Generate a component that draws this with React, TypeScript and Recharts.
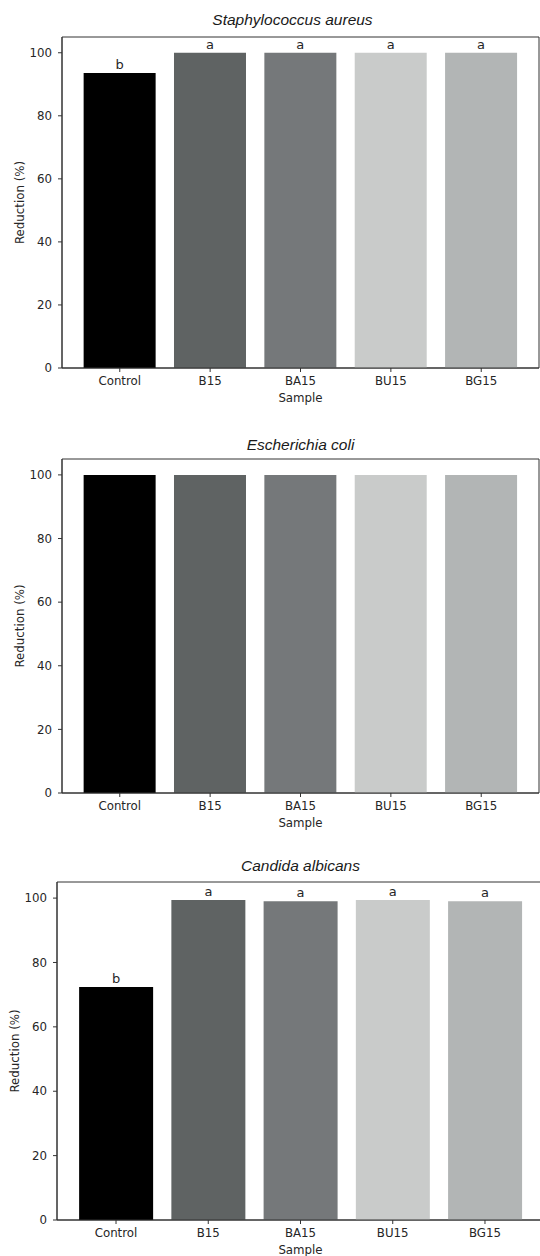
import React from 'react';
import { BarChart, Bar, XAxis, YAxis, CartesianGrid, Cell, LabelList, Label } from 'recharts';

const samples = ['Control', 'B15', 'BA15', 'BU15', 'BG15'];
const staphValues = [93.6, 100, 100, 100, 100];
const ecoliValues = [100, 100, 100, 100, 100];
const candidaValues = [72.4, 99.4, 99.0, 99.4, 99.0];
const staphLetters = ['b', 'a', 'a', 'a', 'a'];
const candidaLetters = ['b', 'a', 'a', 'a', 'a'];
const barColors = ['#000000', '#5f6363', '#75787a', '#c9cbca', '#b2b5b5'];
const yTicks = [0, 20, 40, 60, 80, 100];
const titles = ['Staphylococcus aureus', 'Escherichia coli', 'Candida albicans'];

const AX = '#333333';
const TXT = '#262626';
const FONT = 'DejaVu Sans';

type PanelProps = {
  title: string;
  values: number[];
  letters?: string[];
  top: number;
  height: number;
  width: number;
  yAxisWidth: number;
  pad: number;
  titleTop: number;
  titleShift: number;
};

function Panel({ title, values, letters, top, height, width, yAxisWidth, pad, titleTop, titleShift }: PanelProps) {
  const data = samples.map((s, i) => ({ sample: s, value: values[i], letter: letters ? letters[i] : '' }));
  const plotLeft = yAxisWidth;
  const plotWidth = width - 1 - yAxisWidth;
  return (
    <>
      <div
        style={{
          position: 'absolute',
          top: titleTop,
          left: plotLeft + titleShift,
          width: plotWidth,
          textAlign: 'center',
          fontFamily: 'Liberation Sans',
          fontStyle: 'italic',
          fontSize: 15.5,
          lineHeight: '18px',
          color: '#1a1a1a',
        }}
      >
        {title}
      </div>
      <div style={{ position: 'absolute', top, left: 0 }}>
        <BarChart
          width={width}
          height={height}
          data={data}
          margin={{ top: 37, right: 1, bottom: 0, left: 0 }}
          barCategoryGap="10%"
        >
          <CartesianGrid
            stroke={AX}
            strokeWidth={1}
            horizontalCoordinatesGenerator={({ offset }: any) => [offset.top, offset.top + offset.height]}
            verticalCoordinatesGenerator={({ offset }: any) => [offset.left, offset.left + offset.width]}
          />
          <XAxis
            dataKey="sample"
            height={52}
            padding={{ left: pad, right: pad }}
            tickSize={4}
            tickMargin={5}
            axisLine={{ stroke: AX }}
            tickLine={{ stroke: AX }}
            tick={{ fill: TXT, fontSize: 11.8, fontFamily: FONT }}
            interval={0}
          >
            <Label
              content={({ viewBox }: any) => (
                <text
                  x={viewBox.x + viewBox.width / 2}
                  y={viewBox.y + 34}
                  textAnchor="middle"
                  fill={TXT}
                  fontSize={11.8}
                  fontFamily={FONT}
                >
                  Sample
                </text>
              )}
            />
          </XAxis>
          <YAxis
            width={yAxisWidth}
            domain={[0, 105]}
            ticks={yTicks}
            tickSize={4}
            tickMargin={6}
            axisLine={{ stroke: AX }}
            tickLine={{ stroke: AX }}
            tick={{ fill: TXT, fontSize: 11.8, fontFamily: FONT }}
          >
            <Label
              content={({ viewBox }: any) => {
                const x = viewBox.x + viewBox.width - 42;
                const y = viewBox.y + viewBox.height / 2;
                return (
                  <text
                    x={x}
                    y={y}
                    transform={`rotate(-90, ${x}, ${y})`}
                    textAnchor="middle"
                    dominantBaseline="central"
                    fill={TXT}
                    fontSize={11.8}
                    fontFamily={FONT}
                  >
                    Reduction (%)
                  </text>
                );
              }}
            />
          </YAxis>
          <Bar dataKey="value" isAnimationActive={false}>
            {data.map((d, i) => (
              <Cell key={d.sample} fill={barColors[i]} />
            ))}
            {letters ? (
              <LabelList dataKey="letter" position="top" offset={4} fill={TXT} fontSize={13} fontFamily={FONT} />
            ) : null}
          </Bar>
        </BarChart>
      </div>
    </>
  );
}

export default function App() {
  return (
    <div
      style={{
        position: 'absolute',
        top: 0,
        left: 0,
        width: 540,
        height: 1256,
        overflow: 'hidden',
        background: '#ffffff',
        fontFamily: FONT,
      }}
    >
      <Panel title={titles[0]} values={staphValues} letters={staphLetters} top={0} height={420} width={540} yAxisWidth={62} pad={12.6} titleTop={11} titleShift={-8} />
      <Panel title={titles[1]} values={ecoliValues} top={422} height={423} width={540} yAxisWidth={62} pad={12.6} titleTop={436} titleShift={0} />
      <Panel title={titles[2]} values={candidaValues} letters={candidaLetters} top={845} height={427} width={545} yAxisWidth={57} pad={12.9} titleTop={857} titleShift={0} />
    </div>
  );
}
